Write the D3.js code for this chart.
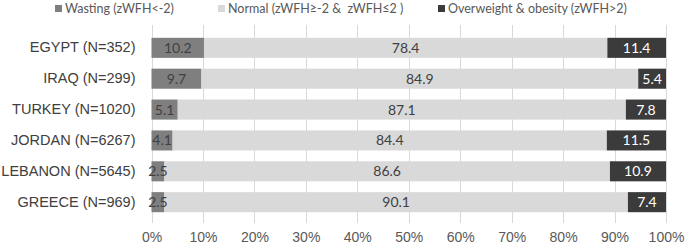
<!DOCTYPE html>
<html>
<head>
<meta charset="utf-8">
<script src="https://cdn.jsdelivr.net/npm/d3@7"></script>
<style>
  body { margin: 0; background: #fff; }
  svg { font-family: Lato, "Open Sans", sans-serif; }
  .grid line { stroke: #d9d9d9; stroke-width: 1; }
  .axis text { fill: #595959; font-size: 14px; }
  .cat text { fill: #404040; font-size: 14.5px; }
  .legend text { fill: #595959; font-size: 12.5px; white-space: pre; }
</style>
</head>
<body>
<svg id="chart" width="685" height="250"></svg>
<script>
// data
var countries = ['EGYPT (N=352)', 'IRAQ (N=299)', 'TURKEY (N=1020)', 'JORDAN (N=6267)', 'LEBANON (N=5645)', 'GREECE (N=969)'];
var wasting = [10.2, 9.7, 5.1, 4.1, 2.5, 2.5];
var normal = [78.4, 84.9, 87.1, 84.4, 86.6, 90.1];
var overweight = [11.4, 5.4, 7.8, 11.5, 10.9, 7.4];
var seriesNames = ['Wasting (zWFH<-2)', 'Normal (zWFH\u2265-2 &  zWFH\u22642 )', 'Overweight & obesity (zWFH>2)'];
var ticks = [0, 10, 20, 30, 40, 50, 60, 70, 80, 90, 100];

var colors = ['#7f7f7f', '#d9d9d9', '#3b3b3b'];
var labelColors = ['#404040', '#404040', '#ffffff'];

var svg = d3.select('#chart');
var margins = { top: 27, left: 151.5, right: 19, bottom: 27 };
var width = +svg.attr('width');
var height = +svg.attr('height');

var x = d3.scaleLinear().domain([0, 100]).range([margins.left, width - margins.right]);
var y = d3.scaleBand().domain(countries).range([margins.top, height - margins.bottom]).padding(0.35);

var rows = countries.map(function (c, i) {
  return { name: c, values: [wasting[i], normal[i], overweight[i]] };
});
var stack = d3.stack().keys([0, 1, 2]).value(function (d, k) { return d.values[k]; });
var layers = stack(rows);

// gridlines
svg.append('g')
  .attr('class', 'grid')
  .selectAll('line')
  .data(ticks)
  .enter()
  .append('line')
  .attr('x1', function (d) { return Math.round(x(d)) + 0.5; })
  .attr('x2', function (d) { return Math.round(x(d)) + 0.5; })
  .attr('y1', margins.top - 2)
  .attr('y2', height - margins.bottom);

// x axis labels
var xAxis = d3.axisBottom(x)
  .tickValues(ticks)
  .tickSize(0)
  .tickPadding(9)
  .tickFormat(function (d) { return d + '%'; });
svg.append('g')
  .attr('class', 'axis x')
  .attr('transform', 'translate(0,' + (height - margins.bottom) + ')')
  .call(xAxis)
  .call(function (g) { g.select('.domain').remove(); })
  .selectAll('text')
  .attr('font-family', null)
  .attr('font-size', null);

// category labels
var yAxis = d3.axisLeft(y).tickSize(0).tickPadding(16);
svg.append('g')
  .attr('class', 'cat')
  .attr('transform', 'translate(' + margins.left + ',0)')
  .call(yAxis)
  .call(function (g) { g.select('.domain').remove(); })
  .selectAll('text')
  .attr('font-family', null)
  .attr('font-size', null);

// bars
var groups = svg.append('g')
  .attr('class', 'bars')
  .selectAll('g')
  .data(layers)
  .enter()
  .append('g')
  .attr('fill', function (d, i) { return colors[i]; });

groups.selectAll('rect')
  .data(function (d) { return d; })
  .enter()
  .append('rect')
  .attr('x', function (d) { return x(d[0]); })
  .attr('y', function (d) { return y(d.data.name); })
  .attr('width', function (d) { return x(d[1]) - x(d[0]); })
  .attr('height', y.bandwidth());

// data labels (on top of every bar)
var labels = svg.append('g').attr('class', 'labels');
layers.forEach(function (layer, i) {
  labels.append('g')
    .selectAll('text')
    .data(layer)
    .enter()
    .append('text')
    .attr('x', function (d) { return (x(d[0]) + x(d[1])) / 2; })
    .attr('y', function (d) { return y(d.data.name) + y.bandwidth() / 2; })
    .attr('dy', '0.36em')
    .attr('text-anchor', 'middle')
    .attr('font-size', '14px')
    .attr('fill', labelColors[i])
    .text(function (d) { return d.data.values[i].toFixed(1); });
});

// legend
var legendX = [55, 218, 438];
var legend = svg.append('g')
  .attr('class', 'legend')
  .selectAll('g')
  .data(seriesNames)
  .enter()
  .append('g')
  .attr('transform', function (d, i) { return 'translate(' + legendX[i] + ',9)'; });

legend.append('rect')
  .attr('x', 0)
  .attr('y', -4)
  .attr('width', 7)
  .attr('height', 7)
  .attr('fill', function (d, i) { return colors[i]; });

legend.append('text')
  .attr('x', 10)
  .attr('y', 0)
  .attr('dy', '0.35em')
  .text(String);
</script>
</body>
</html>
